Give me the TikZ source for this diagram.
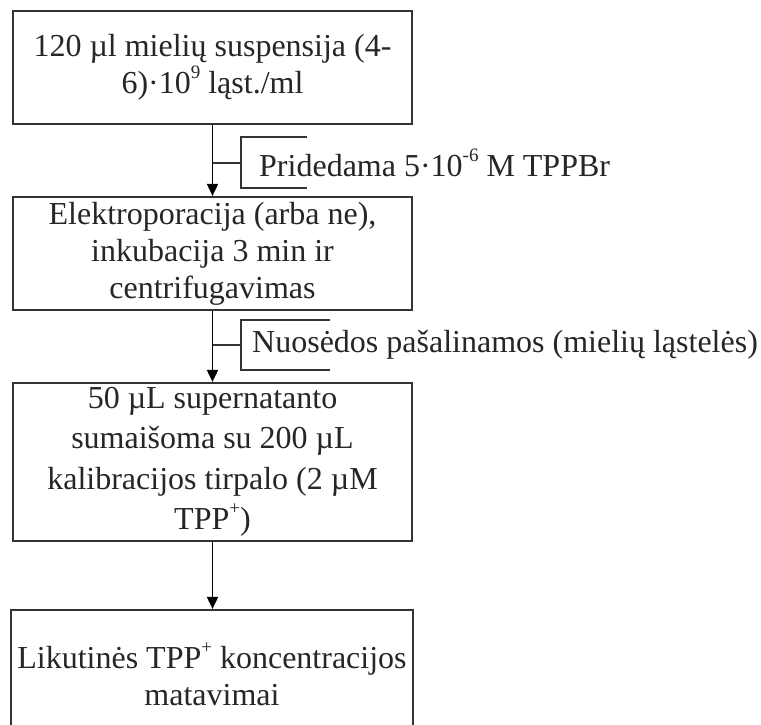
\documentclass[tikz,border=0pt]{standalone}
\usepackage{fontspec}
\setmainfont{Liberation Serif}
\usetikzlibrary{arrows.meta}
\definecolor{ink}{HTML}{262626}
\definecolor{edge}{HTML}{333333}
\tikzset{
  box/.style={draw=edge, line width=2.2pt, fill=white, align=center, text=ink, inner sep=0pt,
    font=\fontsize{32}{37}\selectfont},
  arr/.style={draw=black, line width=1.8pt, -{Triangle[width=11pt,length=12pt]}},
  brk/.style={draw=edge, line width=1.8pt},
  note/.style={text=ink, inner sep=0pt, anchor=west, font=\fontsize{32}{37}\selectfont}
}
\newcommand{\sps}[1]{\raisebox{0.48em}{\fontsize{19}{19}\selectfont #1}}
\begin{document}
\begin{tikzpicture}[x=1pt,y=-1pt]
\useasboundingbox (0,0) rectangle (761,725);
\node[box, minimum width=399pt, minimum height=113pt] (b1) at (212.5,67.5)
  {120 µl mielių suspensija (4-\\6)·10\sps{9} ląst./ml};
\node[box, minimum width=399pt, minimum height=113pt] (b2) at (212.5,253.5)
  {Elektroporacija (arba ne),\\inkubacija 3 min ir\\centrifugavimas};
\node[box, minimum width=399pt, minimum height=158pt, font=\fontsize{32}{40.5}\selectfont] (b3) at (212.5,462)
  {50 µL supernatanto\\sumaišoma su 200 µL\\kalibracijos tirpalo (2 µM\\TPP\sps{+})};
\node[box, minimum width=402pt, minimum height=128pt] (b4) at (212,674)
  {Likutinės TPP\sps{+} koncentracijos\\matavimai};
\draw[arr] (b1.south) -- (b1.south |- b2.north);
\draw[arr] (b2.south) -- (b2.south |- b3.north);
\draw[arr] (b3.south) -- (b3.south |- b4.north);
% bracket 1
\coordinate (j1) at (212.5,163);
\draw[brk] (j1) -- (241,163);
\draw[brk] (307,137) -- (241,137) -- (241,188) -- (307,188);
\node[note] (t1) at (259,163) {Pridedama 5·10\sps{-6} M TPPBr};
% bracket 2
\coordinate (j2) at (212.5,345);
\draw[brk] (j2) -- (241,345);
\draw[brk] (330,320) -- (241,320) -- (241,370) -- (330,370);
\node[note] (t2) at (252,345) {Nuosėdos pašalinamos (mielių ląstelės)};
\end{tikzpicture}
\end{document}
